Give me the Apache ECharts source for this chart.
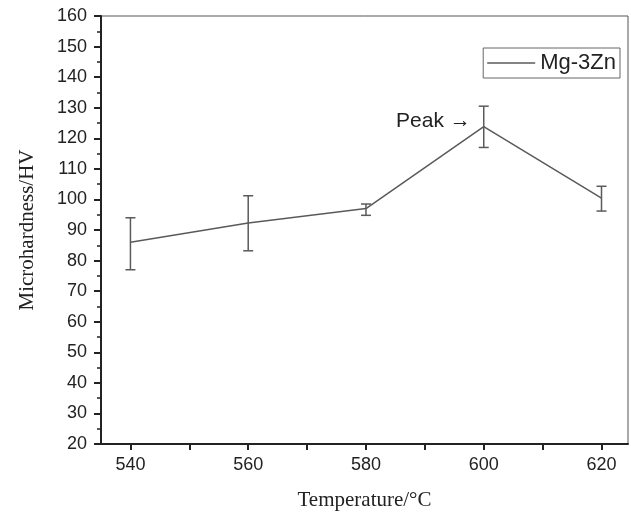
<!DOCTYPE html>
<html>
<head>
<meta charset="utf-8">
<script src="https://cdn.jsdelivr.net/npm/echarts@6/dist/echarts.min.js"></script>
<style>
  html, body { margin: 0; padding: 0; background: #fff; }
  #main { width: 631px; height: 512px; }
</style>
</head>
<body>
<div id="main"></div>
<script>
// data
const temps = [540, 560, 580, 600, 620];
const hardness = [86, 92.3, 97, 123.8, 100.4];
const errLow = [77, 83.2, 94.8, 117, 96.2];
const errHigh = [94, 101.2, 98.5, 130.5, 104.3];
const xMajorTicks = [540, 560, 580, 600, 620];
const xAllTicks = [540, 550, 560, 570, 580, 590, 600, 610, 620];

const lineData = temps.map((t, i) => [t, hardness[i]]);
const errData = temps.map((t, i) => [t, errLow[i], errHigh[i]]);

const axisColor = '#222';
const lineColor = '#5a5a5a';

let chart = echarts.init(document.getElementById('main'));
chart.setOption({
  animation: false,
  backgroundColor: '#fff',
  grid: {
    left: 101, right: 3, top: 16, bottom: 68,
    outerBoundsMode: 'none',
    containLabel: false,
    show: true, borderColor: '#555', borderWidth: 1
  },
  legend: {
    right: 11, top: 48,
    data: ['Mg-3Zn'],
    icon: 'path://M0,0 L48,0 L48,1.5 L0,1.5 Z',
    itemWidth: 48, itemHeight: 2,
    itemGap: 6,
    padding: [4, 4, 4, 4],
    borderColor: '#666', borderWidth: 1,
    textStyle: { fontFamily: 'Liberation Sans', fontSize: 22, color: '#222' }
  },
  xAxis: {
    type: 'value',
    min: 535, max: 624.5,
    name: 'Temperature/°C',
    nameLocation: 'middle',
    nameGap: 46,
    nameTextStyle: { fontFamily: 'Liberation Serif', fontSize: 21, color: '#222' },
    axisLine: { show: true, onZero: false, lineStyle: { color: axisColor, width: 2 } },
    axisTick: { show: true, inside: false, length: 6, customValues: xAllTicks,
      lineStyle: { color: axisColor, width: 2 } },
    axisLabel: { customValues: xMajorTicks, margin: 12,
      fontFamily: 'Liberation Sans', fontSize: 18, color: '#222' },
    splitLine: { show: false }
  },
  yAxis: {
    type: 'value',
    min: 20, max: 160, interval: 10,
    name: 'Microhardness/HV',
    nameLocation: 'middle',
    nameGap: 63,
    nameTextStyle: { fontFamily: 'Liberation Serif', fontSize: 21, color: '#222' },
    axisLine: { show: true, onZero: false, lineStyle: { color: axisColor, width: 2 } },
    axisTick: { show: true, inside: false, length: 7, lineStyle: { color: axisColor, width: 2 } },
    minorTick: { show: true, splitNumber: 2, length: 4, lineStyle: { color: axisColor, width: 1.5 } },
    axisLabel: { margin: 14, fontFamily: 'Liberation Sans', fontSize: 18, color: '#222' },
    splitLine: { show: false }
  },
  series: [
    {
      name: 'Mg-3Zn',
      type: 'line',
      data: lineData,
      symbol: 'none',
      lineStyle: { color: lineColor, width: 1.5 },
      itemStyle: { color: lineColor },
      markPoint: {
        symbol: 'circle', symbolSize: 0,
        data: [{ coord: [600, 123.8] }],
        label: {
          show: true, position: 'left', distance: 13, offset: [0, -5],
          formatter: 'Peak →',
          fontFamily: 'Liberation Sans', fontSize: 21, color: '#222'
        }
      }
    },
    {
      name: 'err',
      type: 'custom',
      data: errData,
      silent: true,
      renderItem: function (params, api) {
        const x = api.value(0);
        const lo = api.coord([x, api.value(1)]);
        const hi = api.coord([x, api.value(2)]);
        const w = 5;
        const st = { stroke: lineColor, lineWidth: 1.5 };
        return {
          type: 'group',
          children: [
            { type: 'line', shape: { x1: hi[0], y1: hi[1], x2: lo[0], y2: lo[1] }, style: st },
            { type: 'line', shape: { x1: hi[0] - w, y1: hi[1], x2: hi[0] + w, y2: hi[1] }, style: st },
            { type: 'line', shape: { x1: lo[0] - w, y1: lo[1], x2: lo[0] + w, y2: lo[1] }, style: st }
          ]
        };
      },
      z: 3
    }
  ]
});
</script>
</body>
</html>
